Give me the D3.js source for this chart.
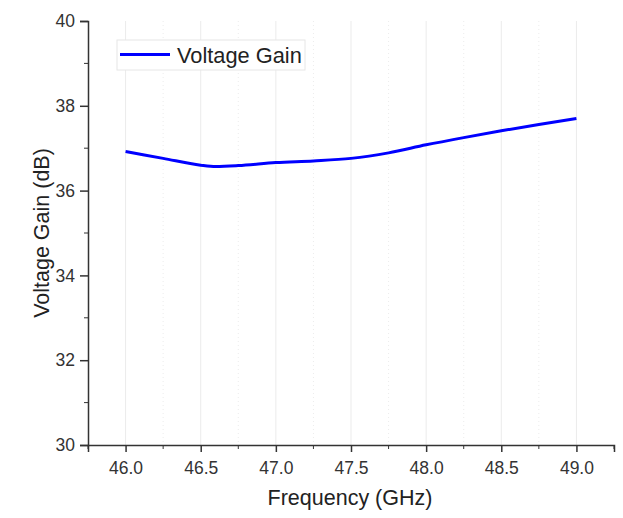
<!DOCTYPE html>
<html>
<head>
<meta charset="utf-8">
<script src="https://cdn.jsdelivr.net/npm/d3@7"></script>
<style>
  body { margin: 0; background: #fff; }
  text { font-family: "Liberation Sans", Arial, sans-serif; }
</style>
</head>
<body>
<script>
// data
var freq = [46.0, 46.25, 46.5, 46.6, 46.75, 47.0, 47.25, 47.5, 47.75, 48.0, 48.25, 48.5, 48.75, 49.0];
var gain = [36.92, 36.76, 36.60, 36.57, 36.59, 36.66, 36.70, 36.76, 36.89, 37.08, 37.25, 37.41, 37.56, 37.70];
var xTicks = [46.0, 46.5, 47.0, 47.5, 48.0, 48.5, 49.0];
var yTicks = [30, 32, 34, 36, 38, 40];
var seriesName = "Voltage Gain";

var width = 623, height = 518;
var margin = {top: 21, right: 9, bottom: 73, left: 88};

var svg = d3.select("body").append("svg")
    .attr("width", width)
    .attr("height", height);

var x = d3.scaleLinear()
    .domain([45.75, 49.25])
    .range([margin.left, width - margin.right]);

var y = d3.scaleLinear()
    .domain([30, 40])
    .range([height - margin.bottom, margin.top]);

var minorX = d3.range(45.75, 49.26, 0.5);
var minorY = d3.range(31, 40, 2);

// grid
svg.append("g").selectAll("line.major")
    .data(xTicks)
  .enter().append("line")
    .attr("x1", function(d) { return x(d); })
    .attr("x2", function(d) { return x(d); })
    .attr("y1", y(40)).attr("y2", y(30))
    .style("stroke", "#ebebeb")
    .style("stroke-width", 1);

svg.append("g").selectAll("line.minor")
    .data(minorX.filter(function(d) { return d > 45.8 && d < 49.2; }))
  .enter().append("line")
    .attr("x1", function(d) { return x(d); })
    .attr("x2", function(d) { return x(d); })
    .attr("y1", y(40)).attr("y2", y(30))
    .style("stroke", "#ececec")
    .style("stroke-width", 1)
    .style("stroke-dasharray", "1,3");

// axes
var xAxis = svg.append("g")
    .attr("transform", "translate(0," + y(30) + ")")
    .call(d3.axisBottom(x).tickValues(xTicks).tickFormat(d3.format(".1f")).tickSizeOuter(0).tickSize(7).tickPadding(10));
xAxis.append("g").selectAll("line")
    .data(minorX)
  .enter().append("line")
    .attr("x1", function(d) { return x(d); })
    .attr("x2", function(d) { return x(d); })
    .attr("y1", 0).attr("y2", 4)
    .style("stroke", "#333");

var yAxis = svg.append("g")
    .attr("transform", "translate(" + x(45.75) + ",0)")
    .call(d3.axisLeft(y).tickValues(yTicks).tickSizeOuter(0).tickSize(8).tickPadding(5));
yAxis.append("g").selectAll("line")
    .data(minorY)
  .enter().append("line")
    .attr("y1", function(d) { return y(d); })
    .attr("y2", function(d) { return y(d); })
    .attr("x1", 0).attr("x2", -4)
    .style("stroke", "#333");

svg.selectAll(".domain, .tick line")
    .style("stroke", "#333")
    .style("stroke-width", 1.5);
svg.selectAll(".tick text")
    .style("font-size", "17.5px")
    .style("fill", "#333");

// axis titles
svg.append("text")
    .attr("x", 350)
    .attr("y", 505)
    .attr("text-anchor", "middle")
    .style("font-size", "21.5px")
    .style("fill", "#222")
    .text("Frequency (GHz)");

svg.append("text")
    .attr("transform", "translate(49," + 233 + ") rotate(-90)")
    .attr("text-anchor", "middle")
    .style("font-size", "21.5px")
    .style("fill", "#222")
    .text("Voltage Gain (dB)");

// curve
var line = d3.line()
    .x(function(d, i) { return x(freq[i]); })
    .y(function(d) { return y(d); })
    .curve(d3.curveMonotoneX);

svg.append("path")
    .datum(gain)
    .attr("d", line)
    .style("fill", "none")
    .style("stroke", "#0000ff")
    .style("stroke-width", 3);

// legend
var legend = svg.append("g");
legend.append("rect")
    .attr("x", 117).attr("y", 40)
    .attr("width", 188).attr("height", 30)
    .style("fill", "#fff")
    .style("stroke", "#e6e6e6");
legend.append("line")
    .attr("x1", 120).attr("x2", 170)
    .attr("y1", 54.5).attr("y2", 54.5)
    .style("stroke", "#0000ff")
    .style("stroke-width", 3);
legend.append("text")
    .attr("x", 177).attr("y", 63)
    .style("font-size", "21.8px")
    .style("fill", "#222")
    .text(seriesName);
</script>
</body>
</html>
